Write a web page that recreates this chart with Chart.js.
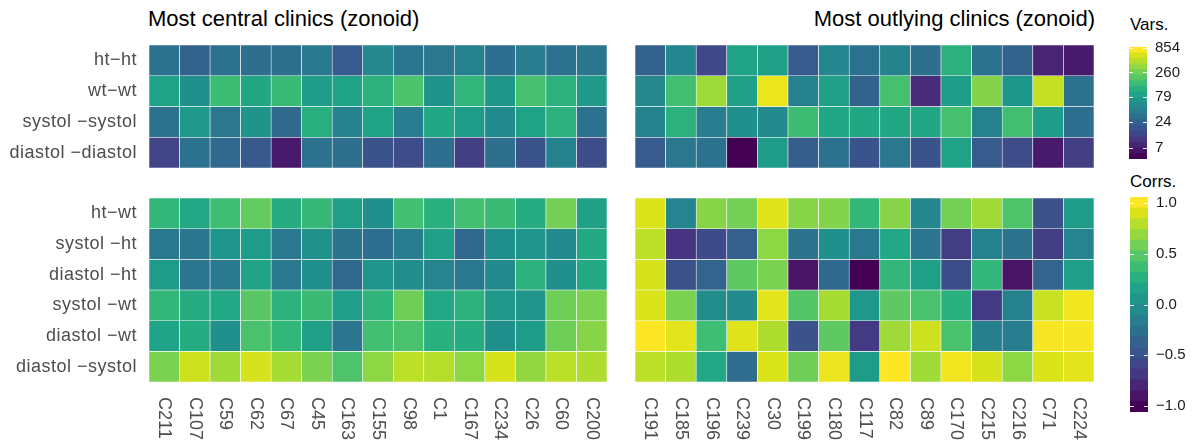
<!DOCTYPE html>
<html>
<head>
<meta charset="utf-8">
<script src="https://cdn.jsdelivr.net/npm/chart.js@4.4.1/dist/chart.umd.min.js"></script>
<style>
  body { margin: 0; background: #fff; }
  #wrap { position: relative; width: 1195px; height: 444px; font-family: "Liberation Sans", Arial, sans-serif; }
  #wrap canvas { position: absolute; }
  .title { position: absolute; font-size: 22px; color: #000; white-space: nowrap; line-height: 1; }
  .legtitle { position: absolute; font-size: 17px; color: #000; white-space: nowrap; line-height: 1; }
</style>
</head>
<body>
<div id="wrap">
  <div class="title" style="left:148px; top:8px;">Most central clinics (zonoid)</div>
  <div class="title" style="right:100px; top:8px;">Most outlying clinics (zonoid)</div>
  <div class="legtitle" style="left:1130px; top:16px;">Vars.</div>
  <div class="legtitle" style="left:1130px; top:173px;">Corrs.</div>

  <canvas id="tl" width="607" height="123" style="left:0; top:45px;"></canvas>
  <canvas id="tr" width="459" height="123" style="left:635px; top:45px;"></canvas>
  <canvas id="bl" width="607" height="246" style="left:0; top:198px;"></canvas>
  <canvas id="br" width="459" height="246" style="left:635px; top:198px;"></canvas>
  <canvas id="legVars" width="70" height="132" style="left:1129px; top:37px;"></canvas>
  <canvas id="legCorrs" width="70" height="235" style="left:1130px; top:187px;"></canvas>
</div>
<script>
// clinics
const centralClinics = ['C211', 'C107', 'C59', 'C62', 'C67', 'C45', 'C163', 'C155', 'C98', 'C1', 'C167', 'C234', 'C26', 'C60', 'C200'];
const outlyingClinics = ['C191', 'C185', 'C196', 'C239', 'C30', 'C199', 'C180', 'C117', 'C82', 'C89', 'C170', 'C215', 'C216', 'C71', 'C224'];

const varRows = ['ht\u2212ht', 'wt\u2212wt', 'systol \u2212systol', 'diastol \u2212diastol'];
const corrRows = ['ht\u2212wt', 'systol \u2212ht', 'diastol \u2212ht', 'systol \u2212wt', 'diastol \u2212wt', 'diastol \u2212systol'];

// variances, most central clinics
const centralHtHt = [31, 22, 31, 29, 29, 36, 19, 50, 33, 34, 43, 28, 40, 31, 33];
const centralWtWt = [90, 59, 163, 101, 154, 81, 95, 124, 191, 66, 139, 69, 181, 124, 73];
const centralSysSys = [31, 73, 34, 66, 25, 118, 45, 95, 40, 101, 77, 53, 90, 124, 31];
const centralDiaDia = [12, 31, 25, 18, 6, 31, 29, 16, 14, 28, 11, 29, 16, 43, 14];

// variances, most outlying clinics
const outlyHtHt = [22, 48, 13, 90, 86, 19, 48, 31, 45, 29, 124, 31, 22, 7, 6];
const outlyWtWt = [50, 172, 404, 86, 760, 43, 86, 22, 181, 8, 81, 326, 69, 556, 31];
const outlySysSys = [45, 124, 40, 59, 53, 163, 101, 101, 101, 101, 181, 43, 172, 81, 28];
const outlyDiaDia = [19, 34, 31, 4.1, 77, 20, 31, 16, 34, 16, 90, 19, 14, 6, 11];

// correlations, most central clinics
const centralHtWt = [0.34, 0.21, 0.40, 0.55, 0.25, 0.36, 0.13, 0.00, 0.42, 0.28, 0.42, 0.38, 0.25, 0.61, 0.15];
const centralSysHt = [-0.21, -0.23, 0.04, 0.11, -0.21, 0.02, -0.25, -0.30, -0.17, 0.13, -0.34, 0.00, 0.04, -0.04, 0.21];
const centralDiaHt = [0.11, -0.23, -0.19, 0.17, -0.21, 0.00, -0.34, 0.04, -0.02, -0.11, -0.21, -0.04, 0.30, 0.00, 0.21];
const centralSysWt = [0.34, 0.25, 0.21, 0.51, 0.30, 0.38, 0.13, 0.32, 0.59, 0.21, 0.30, 0.08, 0.04, 0.59, 0.64];
const centralDiaWt = [0.17, 0.25, 0.00, 0.45, 0.34, 0.15, -0.23, 0.42, 0.45, 0.28, 0.25, 0.00, 0.11, 0.59, 0.68];
const centralDiaSys = [0.64, 0.91, 0.76, 0.93, 0.78, 0.64, 0.47, 0.70, 0.85, 0.83, 0.70, 0.93, 0.72, 0.84, 0.81];

// correlations, most outlying clinics
const outlyHtWt = [0.95, -0.11, 0.68, 0.61, 0.96, 0.68, 0.66, 0.34, 0.68, -0.08, 0.61, 0.76, 0.47, -0.53, 0.11];
const outlySysHt = [0.85, -0.74, -0.59, -0.42, 0.70, -0.25, 0.00, -0.21, 0.21, -0.23, -0.68, -0.13, -0.25, -0.68, -0.11];
const outlyDiaHt = [0.93, -0.53, -0.38, 0.53, 0.64, -0.95, -0.34, -1.06, 0.34, 0.13, -0.57, 0.34, -0.95, -0.38, 0.13];
const outlySysWt = [0.95, 0.64, -0.02, -0.04, 0.98, 0.49, 0.78, 0.06, 0.53, 0.45, 0.28, -0.70, -0.13, 0.89, 1.02];
const outlyDiaWt = [1.06, 0.98, 0.40, 0.96, 0.81, -0.53, 0.53, -0.70, 0.76, 0.91, 0.45, -0.15, -0.17, 1.04, 1.04];
const outlyDiaSys = [0.85, 0.81, 0.21, -0.32, 0.95, 0.59, 1.00, 0.11, 1.06, 0.76, 1.02, 0.93, 0.70, 0.95, 0.98];

// colour scale limits and legend ticks
const varMin = 4.1, varMax = 880;
const varTicks = [7, 24, 79, 260, 854];
const corrMin = -1.06, corrMax = 1.06;
const corrTicks = [-1, -0.5, 0, 0.5, 1];
const corrTickLabels = ['\u22121.0', '\u22120.5', '0.0', '0.5', '1.0'];

// viridis, 21 stops
const viridis = ['#440154', '#471365', '#482475', '#463480', '#414487', '#3B528B', '#355F8D', '#2F6C8E', '#2A788E', '#25848E',
  '#21908C', '#1E9C89', '#22A884', '#2FB47C', '#43BF71', '#5EC962', '#7AD151', '#9AD93C', '#BBDF27', '#DCE319', '#FDE725'];

function hexRgb(h) {
  return [parseInt(h.slice(1, 3), 16), parseInt(h.slice(3, 5), 16), parseInt(h.slice(5, 7), 16)];
}
function viridisAt(t) {
  t = Math.max(0, Math.min(1, t));
  const p = t * (viridis.length - 1);
  const i = Math.min(Math.floor(p), viridis.length - 2);
  const f = p - i;
  const a = hexRgb(viridis[i]), b = hexRgb(viridis[i + 1]);
  const c = a.map((v, k) => Math.round(v + (b[k] - v) * f));
  return `rgb(${c[0]},${c[1]},${c[2]})`;
}
const varColor = v => viridisAt((Math.log10(v) - Math.log10(varMin)) / (Math.log10(varMax) - Math.log10(varMin)));
const corrColor = v => viridisAt((v - corrMin) / (corrMax - corrMin));

const axisFont = { family: '"Liberation Sans", Arial, sans-serif', size: 18 };
const axisGrey = '#4d4d4d';

// slightly looser letters for the row labels, like the original
const looseText = {
  id: 'looseText',
  beforeDraw(chart) { chart.ctx.letterSpacing = '0.5px'; },
  afterDraw(chart) { chart.ctx.letterSpacing = '0px'; }
};

// rotated column labels under bottom panels
const colLabels = {
  id: 'colLabels',
  afterDraw(chart) {
    const { ctx, chartArea } = chart;
    const x = chart.scales.x;
    ctx.save();
    ctx.letterSpacing = '0px';
    ctx.font = '18px "Liberation Sans", Arial, sans-serif';
    ctx.fillStyle = axisGrey;
    ctx.textAlign = 'left';
    ctx.textBaseline = 'middle';
    chart.data.labels.forEach((lab, i) => {
      ctx.save();
      ctx.translate(x.getPixelForValue(i), chartArea.bottom + 15);
      ctx.rotate(Math.PI / 2);
      ctx.fillText(lab, 0, 0);
      ctx.restore();
    });
    ctx.restore();
  }
};

function heatmap(id, clinics, rows, values, colorFn, showRowLabels, showColLabels) {
  const datasets = rows.map((r, i) => ({
    label: r,
    data: clinics.map(() => 1),
    backgroundColor: values[i].map(colorFn),
    borderColor: '#ffffff',
    borderWidth: 0.6,
    borderSkipped: false,
    barPercentage: 1,
    categoryPercentage: 1
  }));
  const plugins = [];
  if (showRowLabels) plugins.push(looseText);
  if (showColLabels) plugins.push(colLabels);
  return new Chart(document.getElementById(id), {
    type: 'bar',
    data: { labels: clinics, datasets: datasets },
    plugins: plugins,
    options: {
      responsive: false,
      animation: false,
      devicePixelRatio: 1,
      layout: { padding: { left: 0, right: 0, top: 0, bottom: showColLabels ? 62 : 0 } },
      plugins: { legend: { display: false }, tooltip: { enabled: false } },
      scales: {
        x: { stacked: true, display: false },
        y: {
          stacked: true,
          min: 0,
          max: rows.length,
          reverse: true,
          display: showRowLabels,
          grid: { display: false, drawTicks: false },
          border: { display: false },
          afterBuildTicks: s => { s.ticks = rows.map((_, i) => ({ value: i + 0.5 })); },
          afterFit: s => { s.width = showRowLabels ? 149 : 0; s.paddingTop = 0; s.paddingBottom = 0; },
          ticks: {
            callback: v => rows[Math.floor(v)],
            font: axisFont,
            color: axisGrey,
            padding: 12
          }
        }
      }
    }
  });
}

heatmap('tl', centralClinics, varRows, [centralHtHt, centralWtWt, centralSysSys, centralDiaDia], varColor, true, false);
heatmap('tr', outlyingClinics, varRows, [outlyHtHt, outlyWtWt, outlySysSys, outlyDiaDia], varColor, false, false);
heatmap('bl', centralClinics, corrRows, [centralHtWt, centralSysHt, centralDiaHt, centralSysWt, centralDiaWt, centralDiaSys], corrColor, true, true);
heatmap('br', outlyingClinics, corrRows, [outlyHtWt, outlySysHt, outlyDiaHt, outlySysWt, outlyDiaWt, outlyDiaSys], corrColor, false, true);

// white tick dashes on the colour bars
const barDashes = {
  id: 'barDashes',
  afterDatasetsDraw(chart) {
    const { ctx, chartArea } = chart;
    const y = chart.scales.y;
    ctx.save();
    ctx.strokeStyle = 'rgba(255,255,255,0.9)';
    ctx.lineWidth = 1;
    y.ticks.forEach(t => {
      const py = Math.round(y.getPixelForValue(t.value)) + 0.5;
      ctx.beginPath();
      ctx.moveTo(chartArea.left, py); ctx.lineTo(chartArea.left + 4, py);
      ctx.moveTo(chartArea.right - 4, py); ctx.lineTo(chartArea.right, py);
      ctx.stroke();
    });
    ctx.restore();
  }
};

function colorbar(id, lo, hi, tickVals, tickText) {
  const nbin = 20;
  const step = (hi - lo) / nbin;
  const bands = [];
  for (let k = 0; k < nbin; k++) {
    bands.push({
      data: [[lo + k * step, lo + (k + 1) * step]],
      backgroundColor: viridisAt(k / (nbin - 1)),
      borderWidth: 0,
      grouped: false,
      barPercentage: 1,
      categoryPercentage: 1
    });
  }
  return new Chart(document.getElementById(id), {
    type: 'bar',
    data: { labels: [''], datasets: bands },
    plugins: [barDashes],
    options: {
      responsive: false,
      animation: false,
      devicePixelRatio: 1,
      layout: { padding: { top: 10, bottom: 10, left: 0, right: 0 } },
      plugins: { legend: { display: false }, tooltip: { enabled: false } },
      scales: {
        x: { display: false },
        y: {
          position: 'right',
          min: lo,
          max: hi,
          grid: { display: false, drawTicks: false },
          border: { display: false },
          afterBuildTicks: s => { s.ticks = tickVals.map(v => ({ value: v })); },
          afterFit: s => { s.width = 52; s.paddingTop = 0; s.paddingBottom = 0; },
          ticks: {
            callback: (v, i) => tickText[i],
            font: { family: '"Liberation Sans", Arial, sans-serif', size: 15 },
            color: '#1a1a1a',
            padding: 8
          }
        }
      }
    }
  });
}

colorbar('legVars', Math.log10(varMin), Math.log10(varMax), varTicks.map(v => Math.log10(v)), varTicks.map(String));
colorbar('legCorrs', corrMin, corrMax, corrTicks, corrTickLabels);
</script>
</body>
</html>
